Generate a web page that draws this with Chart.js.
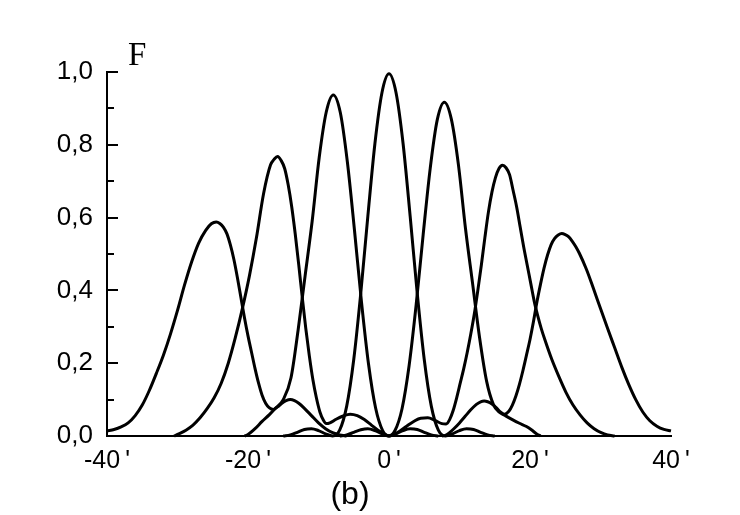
<!DOCTYPE html>
<html>
<head>
<meta charset="utf-8">
<script src="https://cdn.jsdelivr.net/npm/chart.js@4.4.1/dist/chart.umd.min.js"></script>
<style>
html, body { margin: 0; padding: 0; background: #fff; }
</style>
</head>
<body>
<canvas id="myChart" width="740" height="515"></canvas>
<script>
// beam patterns F(theta) as [angle, F] pairs
const beam1 = [[-40,0.014],[-39,0.018],[-38,0.025],[-37,0.036],[-36,0.056],[-35,0.085],[-34,0.125],[-33,0.172],[-32,0.222],[-31,0.28],[-30,0.345],[-29,0.415],[-28,0.478],[-27,0.53],[-26,0.565],[-25.2,0.583],[-24.5,0.588],[-24,0.584],[-23.5,0.574],[-23,0.556],[-22.5,0.525],[-22,0.485],[-21.5,0.435],[-21,0.38],[-20.5,0.325],[-20,0.275],[-19.5,0.23],[-19,0.185],[-18.5,0.145],[-18,0.112],[-17.5,0.09],[-17,0.078],[-16.4,0.073],[-15.8,0.08],[-15.2,0.09],[-14.6,0.097],[-14,0.1],[-13.4,0.097],[-12.8,0.09],[-12,0.076],[-11,0.056],[-10,0.036],[-9,0.02],[-8,0.009],[-7,0.003],[-6,0]];
const beam2 = [[-30.5,0],[-29.8,0.006],[-28.8,0.016],[-27.8,0.03],[-26.8,0.05],[-25.8,0.075],[-24.8,0.105],[-23.8,0.145],[-22.8,0.2],[-21.8,0.27],[-20.8,0.35],[-19.8,0.44],[-18.8,0.545],[-17.8,0.665],[-16.8,0.745],[-16.3,0.76],[-15.8,0.768],[-15.3,0.757],[-14.8,0.735],[-14.3,0.69],[-13.8,0.63],[-13.3,0.555],[-12.8,0.47],[-12.3,0.38],[-11.8,0.295],[-11.3,0.22],[-10.8,0.155],[-10.3,0.105],[-9.8,0.066],[-9.3,0.043],[-8.9,0.034],[-8.3,0.037],[-7.5,0.046],[-6.5,0.055],[-5.5,0.06],[-4.5,0.056],[-3.5,0.045],[-2.5,0.03],[-1.5,0.015],[-0.5,0.004],[0,0]];
const beam3 = [[-20.5,0],[-20,0.004],[-19,0.02],[-18,0.04],[-17,0.058],[-16,0.078],[-15,0.1],[-13.9,0.16],[-12.9,0.29],[-11.9,0.44],[-10.9,0.59],[-9.9,0.765],[-8.9,0.89],[-7.9,0.937],[-6.9,0.888],[-5.9,0.752],[-4.9,0.566],[-3.9,0.368],[-2.9,0.197],[-1.9,0.077],[-0.9,0.015],[0,0],[1,0.006],[2,0.015],[3,0.02],[4,0.018],[5,0.01],[6,0.003],[7,0]];
const beam4 = [[-15,0],[-14,0.003],[-13,0.01],[-12,0.018],[-11,0.02],[-10,0.015],[-9,0.006],[-8,0],[-7,0.016],[-6,0.082],[-5,0.21],[-4,0.393],[-3,0.604],[-2,0.803],[-1,0.943],[0,0.995],[1,0.943],[2,0.803],[3,0.604],[4,0.393],[5,0.21],[6,0.082],[7,0.016],[8,0],[9,0.006],[10,0.015],[11,0.02],[12,0.018],[13,0.01],[14,0.003],[15,0]];
const beam5 = [[-7,0],[-6,0.003],[-5,0.01],[-4,0.017],[-3,0.02],[-2,0.015],[-1,0.006],[0,0],[0.85,0.015],[1.85,0.075],[2.85,0.193],[3.85,0.36],[4.85,0.554],[5.85,0.736],[6.85,0.869],[7.85,0.917],[8.85,0.87],[9.85,0.745],[10.85,0.57],[11.85,0.42],[12.85,0.27],[13.85,0.15],[14.8,0.087],[15.6,0.066],[16.4,0.057],[17.5,0.045],[18.5,0.035],[19.5,0.026],[20.2,0.017],[21,0.005],[21.5,0]];
const beam6 = [[0,0],[0.5,0.003],[1.5,0.013],[2.5,0.027],[3.5,0.04],[4.5,0.049],[5.5,0.05],[6.5,0.043],[7.5,0.034],[8.1,0.033],[8.6,0.045],[9.1,0.07],[9.6,0.105],[10.1,0.145],[10.6,0.185],[11.1,0.23],[11.6,0.28],[12.1,0.335],[12.6,0.4],[13.1,0.47],[13.6,0.545],[14.1,0.615],[14.6,0.67],[15.1,0.71],[15.6,0.735],[16.1,0.744],[16.6,0.737],[17.1,0.718],[17.6,0.675],[18.1,0.63],[18.6,0.575],[19.1,0.52],[19.6,0.47],[20.1,0.42],[20.6,0.37],[21.1,0.33],[21.6,0.295],[22.1,0.265],[23.1,0.21],[24.1,0.163],[25.1,0.12],[26.1,0.085],[27.1,0.058],[28.1,0.036],[29.1,0.02],[30.1,0.009],[31,0.003],[32,0]];
const beam7 = [[7.5,0],[8,0.002],[8.5,0.008],[9.2,0.02],[10,0.036],[10.8,0.054],[11.6,0.072],[12.4,0.087],[13,0.094],[13.5,0.096],[14,0.094],[14.6,0.088],[15.2,0.078],[15.8,0.066],[16.4,0.06],[17,0.068],[17.5,0.085],[18,0.11],[18.5,0.142],[19,0.18],[19.5,0.222],[20,0.265],[20.5,0.315],[21,0.37],[21.5,0.418],[22,0.462],[22.5,0.498],[23,0.526],[23.5,0.543],[24,0.552],[24.5,0.556],[25,0.553],[25.5,0.547],[26,0.535],[26.5,0.52],[27,0.502],[28,0.458],[29,0.405],[30,0.35],[31,0.296],[32,0.243],[33,0.19],[34,0.142],[35,0.1],[36,0.066],[37,0.042],[38,0.027],[39,0.018],[40,0.014]];

const xTickValues = [-40, -20, 0, 20, 40];
const xTickLabels = ["-40\u2009'", "-20\u2009'", "0\u2009'", "20\u2009'", "40\u2009'"];
const yTickLabels = ['0,0', '0,2', '0,4', '0,6', '0,8', '1,0'];
const yAxisTitle = 'F';
const captionText = '(b)';

const beams = [beam1, beam2, beam3, beam4, beam5, beam6, beam7];
const sansFont = '"Liberation Sans", Arial, sans-serif';

// inward tick marks on the F axis, plus the F label and the (b) caption
const axisDecor = {
    id: 'axisDecor',
    afterDraw(chart) {
        const ctx = chart.ctx;
        const y = chart.scales.y;
        const area = chart.chartArea;
        ctx.save();
        ctx.strokeStyle = '#000';
        ctx.lineWidth = 2;
        y.ticks.forEach((t, i) => {
            if (i === 0) return;
            const py = Math.round(y.getPixelForValue(t.value));
            const len = i % 2 ? 7 : 11;
            ctx.beginPath();
            ctx.moveTo(area.left, py);
            ctx.lineTo(area.left + len, py);
            ctx.stroke();
        });
        ctx.fillStyle = '#000';
        ctx.font = '33px "Liberation Serif", "Times New Roman", serif';
        ctx.textAlign = 'left';
        ctx.textBaseline = 'alphabetic';
        ctx.fillText(yAxisTitle, area.left + 21, area.top - 7);
        ctx.font = '32px ' + sansFont;
        ctx.textAlign = 'center';
        ctx.fillText(captionText, 350, 504);
        ctx.restore();
    }
};

const data = {
    datasets: beams.map(b => ({
        data: b.map(p => ({ x: p[0], y: p[1] })),
        borderColor: '#000',
        borderWidth: 3,
        pointRadius: 0,
        fill: false,
        cubicInterpolationMode: 'monotone',
        clip: false
    }))
};

const config = {
    type: 'line',
    data: data,
    options: {
        responsive: false,
        animation: false,
        devicePixelRatio: 1,
        layout: { padding: { top: 72, right: 69, left: 0, bottom: 0 } },
        plugins: {
            legend: { display: false },
            tooltip: { enabled: false }
        },
        scales: {
            x: {
                type: 'linear',
                min: -40,
                max: 40,
                grid: { drawOnChartArea: false, drawTicks: false },
                border: { color: '#000', width: 2 },
                ticks: {
                    stepSize: 20,
                    maxRotation: 0,
                    color: '#000',
                    padding: 10,
                    font: { family: sansFont, size: 25 },
                    callback: v => xTickLabels[xTickValues.indexOf(v)]
                },
                afterFit: s => { s.height = 79; }
            },
            y: {
                min: 0,
                max: 1,
                grid: { drawOnChartArea: false, drawTicks: false },
                border: { color: '#000', width: 2 },
                ticks: {
                    stepSize: 0.1,
                    autoSkip: false,
                    color: '#000',
                    padding: 14,
                    font: { family: sansFont, size: 26 },
                    callback: (v, i) => (i % 2 ? '' : yTickLabels[i / 2])
                },
                afterFit: s => { s.width = 107; }
            }
        }
    },
    plugins: [axisDecor]
};

const myChart = new Chart(document.getElementById('myChart'), config);
</script>
</body>
</html>
